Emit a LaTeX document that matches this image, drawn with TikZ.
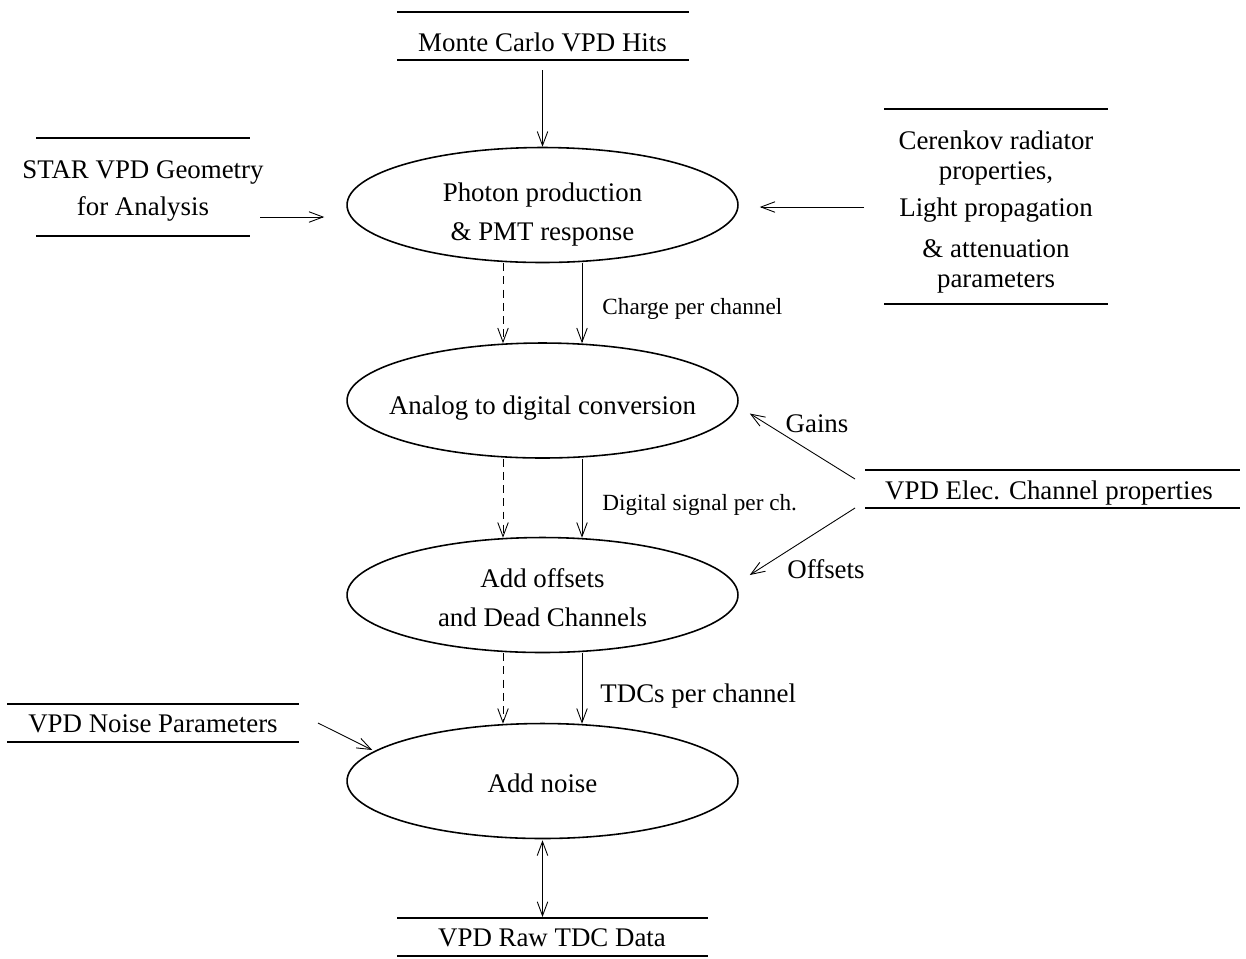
\documentclass[tikz,border=0pt]{standalone}
\usepackage{fontspec}
\setmainfont{Liberation Serif}
\usetikzlibrary{arrows.meta,shapes.geometric,calc}

\begin{document}
\begin{tikzpicture}[x=0.02cm,y=-0.02cm,
  txt/.style={font=\fontsize{15.3}{17}\selectfont, inner sep=0pt, align=center},
  ptxt/.style={font=\fontsize{15.3}{22.4}\selectfont, inner sep=0pt, align=center},
  small/.style={font=\fontsize{13.2}{15}\selectfont, inner sep=0pt, anchor=west},
  proc/.style={draw, line width=0.9pt, ellipse, minimum width=7.82cm,
    minimum height=2.3cm, inner sep=0pt},
  bar/.style={line width=1.1pt},
  arr/.style={line width=0.5pt, -{Straight Barb[length=8pt,width=6pt]}},
  dblarr/.style={line width=0.5pt,
    {Straight Barb[length=8pt,width=6pt]}-{Straight Barb[length=8pt,width=6pt]}},
  darr/.style={arr, dash pattern=on 4.5pt off 3pt},
]
\useasboundingbox (0,0) rectangle (1246,958);

% processing stages
\node[proc] (e1) at (542.5,205) {};
\node[ptxt] (t1) at ($(e1)+(0,9.5)$) {Photon production\\\& PMT response};
\node[proc] (e2) at (542.5,400.5) {};
\node[ptxt] (t2) at ($(e2)+(0,8)$) {Analog to digital conversion};
\node[proc] (e3) at (542.5,595) {};
\node[ptxt] (t3) at ($(e3)+(0,2.5)$) {Add offsets\\and Dead Channels};
\node[proc] (e4) at (542.5,781) {};
\node[ptxt] (t4) at ($(e4)+(0,2)$) {Add noise};

% data stores (text between two bars)
\node[txt] (mc) at (542.5,42) {Monte Carlo VPD Hits};
\draw[bar] ($(mc)+(-145.5,-30)$) -- ++(292,0) ($(mc)+(-145.5,18)$) -- ++(292,0);

\node[txt] (geo) at (143,191) {STAR VPD Geometry\\[4pt]for Analysis};
\draw[bar] ($(geo)+(-107,-53)$) -- ++(214,0) ($(geo)+(-107,45)$) -- ++(214,0);

\node[txt] (cer) at (996,212) {Cerenkov radiator\\properties,\\[4pt]Light propagation\\[6.2pt]\& attenuation\\parameters};
\draw[bar] ($(cer)+(-112,-103)$) -- ++(224,0) ($(cer)+(-112,92)$) -- ++(224,0);

\node[txt] (elec) at (1049,493) {VPD Elec. Channel properties};
\draw[bar] ($(elec)+(-184,-23)$) -- ++(375,0) ($(elec)+(-184,15)$) -- ++(375,0);

\node[txt] (noise) at (153,724) {VPD Noise Parameters};
\draw[bar] ($(noise)+(-146,-20)$) -- ++(292,0) ($(noise)+(-146,18)$) -- ++(292,0);

\node[txt] (raw) at (552,938) {VPD Raw TDC Data};
\draw[bar] ($(raw)+(-155,-20)$) -- ++(311,0) ($(raw)+(-155,18)$) -- ++(311,0);

% inputs
\draw[arr] ($(mc)+(0,28)$) -- (e1.north);
\draw[arr] ($(geo)+(117,26)$) -- ($(e1.west)+(-22,12)$);
\draw[arr] ($(cer)+(-132,-5)$) -- ($(e1.east)+(21,2)$);

% flow between stages
\draw[darr] ($(e1.south)+(-39.5,0)$) -- ($(e2.north)+(-39.5,1)$);
\draw[arr]  ($(e1.south)+(39.5,0)$) -- ($(e2.north)+(39.5,1)$)
  node[small] (lq) at (602,309) {Charge per channel};

\draw[darr] ($(e2.south)+(-39.5,0)$) -- ($(e3.north)+(-39.5,1)$);
\draw[arr]  ($(e2.south)+(39.5,0)$) -- ($(e3.north)+(39.5,1)$)
  node[small] (ld) at (602,505) {Digital signal per ch.};

\draw[darr] ($(e3.south)+(-39.5,0)$) -- ($(e4.north)+(-39.5,1)$);
\draw[arr]  ($(e3.south)+(39.5,0)$) -- ($(e4.north)+(39.5,1)$)
  node[txt, anchor=west] (lt) at (600,696) {TDCs per channel};

% channel properties
\draw[arr] ($(elec)+(-194,-14)$) -- ($(e2.east)+(11,13)$);
\node[txt] (lg) at (817,424) {Gains};
\draw[arr] ($(elec)+(-194,15)$) -- ($(e3.east)+(11,-20)$);
\node[txt] (lo) at (826,569) {Offsets};

% noise and raw data
\draw[arr] ($(noise)+(165,-1)$) -- ($(e4.west)+(26,-31)$);
\draw[dblarr] ($(e4.south)+(0,1)$) -- ($(raw)+(-9.5,-21)$);
\end{tikzpicture}
\end{document}
